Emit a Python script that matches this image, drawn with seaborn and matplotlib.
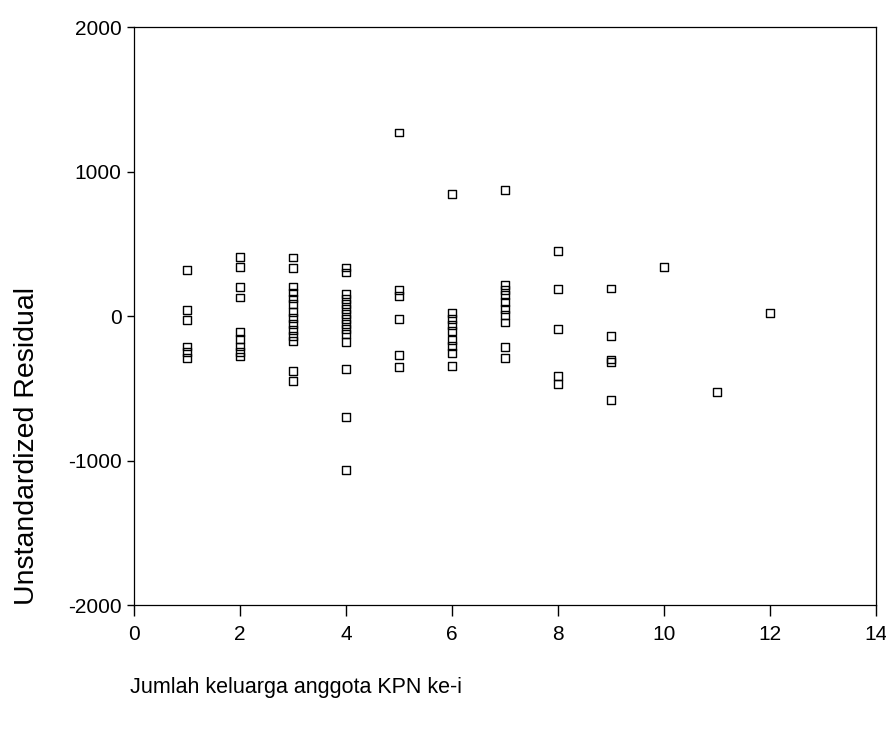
import matplotlib
matplotlib.use("Agg")
import matplotlib.pyplot as plt
import seaborn as sns
import pandas as pd

sns.set_theme(style="white")
plt.rcParams['font.family'] = ['Liberation Sans', 'DejaVu Sans']

# Residuals grouped by family size (Jumlah keluarga)
res_1 = [320, 40, -28, -210, -250, -290]
res_2 = [410, 341, 203, 129, -110, -160, -210, -250, -280]
res_3 = [405, 332, 205, 163, 122, 83, 26, -14, -55, -97, -136, -171, -378, -447]
res_4 = [336, 302, 152, 117, 83, 48, 14, -21, -55, -90, -124, -182, -366, -700, -1062]
res_5 = [1270, 180, 140, -21, -270, -350]
res_6 = [843, 21, -21, -62, -104, -166, -207, -256, -345]
res_7 = [873, 214, 180, 145, 95, 48, 9, -44, -216, -292]
res_8 = [451, 187, -90, -412, -470]
res_9 = [191, -136, -300, -315, -578]
res_10 = [341]
res_11 = [-523]
res_12 = [21]

family_sizes = [1, 2, 3, 4, 5, 6, 7, 8, 9, 10, 11, 12]
groups = [res_1, res_2, res_3, res_4, res_5, res_6, res_7, res_8, res_9,
          res_10, res_11, res_12]

x_ticks = [0, 2, 4, 6, 8, 10, 12, 14]
y_ticks = [-2000, -1000, 0, 1000, 2000]
x_label = "Jumlah keluarga anggota KPN ke-i"
y_label = "Unstandardized Residual"

xs, ys = [], []
for fs, g in zip(family_sizes, groups):
    xs += [fs] * len(g)
    ys += g
df = pd.DataFrame({"x": xs, "y": ys})

fig = plt.figure(figsize=(8.87, 7.30), dpi=100)
ax = fig.add_axes([0.151, 0.171, 0.837, 0.792])

sns.scatterplot(data=df, x="x", y="y", ax=ax, marker="s", s=32,
                facecolors="none", edgecolor="black", linewidth=1.0,
                legend=False)

ax.set_xlim(0, 14)
ax.set_ylim(-2000, 2000)
ax.set_xticks(x_ticks)
ax.set_yticks(y_ticks)
ax.set_xticklabels([str(v) for v in x_ticks])
ax.set_yticklabels([str(v) for v in y_ticks])
ax.tick_params(axis="both", which="major", labelsize=15, colors="black",
               direction="out", width=1, pad=4, bottom=True, left=True)
ax.tick_params(axis="y", length=5)
ax.tick_params(axis="x", length=8, pad=6)

for sp in ax.spines.values():
    sp.set_visible(True)
    sp.set_color("black")
    sp.set_linewidth(0.9)

ax.set_xlabel("")
ax.set_ylabel("")
fig.text(296 / 887, 1 - 688 / 730, x_label, fontsize=15.5, ha="center",
         va="center", color="black")
fig.text(27 / 887, 1 - 446 / 730, y_label, fontsize=20.5, rotation=90,
         ha="center", va="center", color="black")

fig.savefig("out.png", dpi=100, facecolor="white")
